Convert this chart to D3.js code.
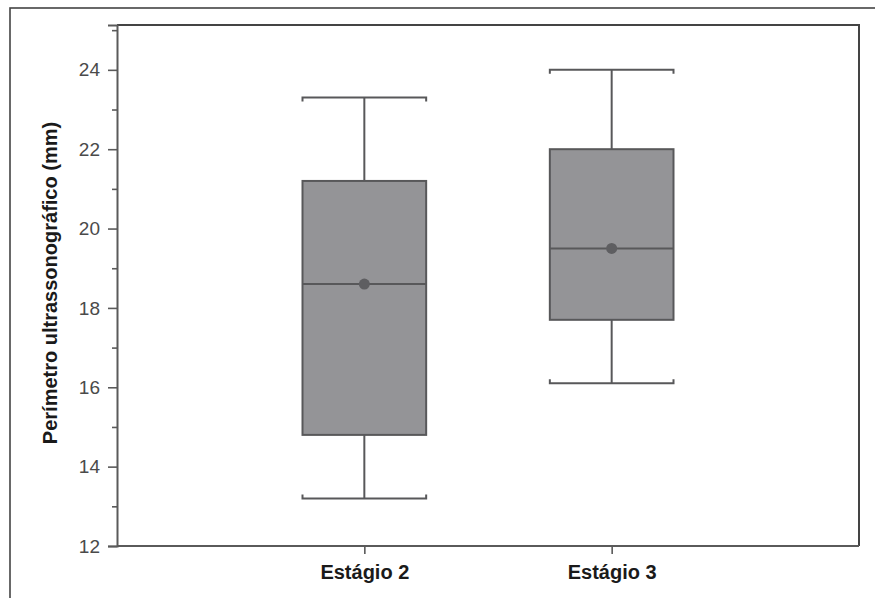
<!DOCTYPE html>
<html><head><meta charset="utf-8">
<script src="https://cdn.jsdelivr.net/npm/d3@7"></script>
<style>
html,body{margin:0;padding:0;background:#fff;}
svg{display:block;}
</style></head>
<body>
<svg id="chart" width="875" height="598"></svg>
<script>
// Data
const categories = ["Estágio 2", "Estágio 3"];
const whiskerLow = [13.2, 16.1];
const q1 = [14.8, 17.7];
const median = [18.6, 19.5];
const q3 = [21.2, 22.0];
const whiskerHigh = [23.3, 24.0];
const means = [18.6, 19.5];
const yMajorTicks = [12, 14, 16, 18, 20, 22, 24];
const yMinorTicks = [13, 15, 17, 19, 21, 23, 25];
const yLabel = "Perímetro ultrassonográfico (mm)";

const svg = d3.select("#chart");
const m = {left: 117, top: 25, right: 859, bottom: 546};

// outer frame
svg.append("rect").attr("x", 10).attr("y", 8).attr("width", 900).attr("height", 700)
  .attr("fill", "none").attr("stroke", "#444").attr("stroke-width", 1.6);

const x = d3.scalePoint().domain(categories).range([m.left, m.right]).padding(1);
const y = d3.scaleLinear().domain([12, 25.13]).range([m.bottom, m.top]);
const boxW = x.step() * 0.5;

// plot frame (top & right)
svg.append("path")
  .attr("d", `M${m.left},${m.top}H${m.right}V${m.bottom}`)
  .attr("fill", "none").attr("stroke", "#444").attr("stroke-width", 2);

const font = "Liberation Sans, Arial, sans-serif";

// y axis major
const yAxis = svg.append("g").attr("transform", `translate(${m.left},0)`)
  .call(d3.axisLeft(y).tickValues(yMajorTicks).tickSize(9).tickPadding(8).tickFormat(d3.format("d")));
yAxis.select(".domain").attr("stroke", "#5a5a5a").attr("stroke-width", 2);
yAxis.selectAll(".tick line").attr("stroke", "#5a5a5a").attr("stroke-width", 1.6);
yAxis.selectAll(".tick text").attr("fill", "#4a4a4a")
  .style("font-family", font).style("font-size", "19px");

// y axis minor
const yMinor = svg.append("g").attr("transform", `translate(${m.left},0)`)
  .call(d3.axisLeft(y).tickValues(yMinorTicks).tickSize(5).tickFormat(""));
yMinor.select(".domain").remove();
yMinor.selectAll(".tick line").attr("stroke", "#5a5a5a").attr("stroke-width", 1.6);

// x axis
const xAxis = svg.append("g").attr("transform", `translate(0,${m.bottom})`)
  .call(d3.axisBottom(x).tickSize(8));
xAxis.select(".domain").attr("stroke", "#5a5a5a").attr("stroke-width", 2)
  .attr("d", `M${m.left},0H${m.right}`);
xAxis.selectAll(".tick line").attr("stroke", "#5a5a5a").attr("stroke-width", 1.6);
xAxis.selectAll(".tick text").attr("fill", "#1a1a1a").attr("y", 33).attr("dy", null)
  .style("font-family", font).style("font-size", "20px")
  .style("font-weight", "bold");

// y label
svg.append("text")
  .attr("transform", `translate(57,283) rotate(-90)`)
  .attr("text-anchor", "middle")
  .style("font-family", font).style("font-size", "20px")
  .style("font-weight", "bold").attr("fill", "#1a1a1a")
  .text(yLabel);

// boxes
const stroke = "#58585a";
const g = svg.append("g");
categories.forEach((c, i) => {
  const cx = x(c);
  const l = cx - boxW / 2, r = cx + boxW / 2;
  g.append("line").attr("x1", cx).attr("x2", cx).attr("y1", y(whiskerHigh[i])).attr("y2", y(q3[i]))
    .attr("stroke", stroke).attr("stroke-width", 2);
  g.append("line").attr("x1", cx).attr("x2", cx).attr("y1", y(q1[i])).attr("y2", y(whiskerLow[i]))
    .attr("stroke", stroke).attr("stroke-width", 2);
  g.append("path").attr("d", `M${l},${y(whiskerHigh[i]) + 4}V${y(whiskerHigh[i])}H${r}V${y(whiskerHigh[i]) + 4}`)
    .attr("fill", "none").attr("stroke", stroke).attr("stroke-width", 2);
  g.append("path").attr("d", `M${l},${y(whiskerLow[i]) - 4}V${y(whiskerLow[i])}H${r}V${y(whiskerLow[i]) - 4}`)
    .attr("fill", "none").attr("stroke", stroke).attr("stroke-width", 2);
  g.append("rect").attr("x", l).attr("y", y(q3[i])).attr("width", boxW).attr("height", y(q1[i]) - y(q3[i]))
    .attr("fill", "#949497").attr("stroke", stroke).attr("stroke-width", 2);
  g.append("line").attr("x1", l).attr("x2", r).attr("y1", y(median[i])).attr("y2", y(median[i]))
    .attr("stroke", stroke).attr("stroke-width", 2);
  g.append("circle").attr("cx", cx).attr("cy", y(means[i])).attr("r", 5.5)
    .attr("fill", "#5e5e61");
});
</script>
</body></html>
